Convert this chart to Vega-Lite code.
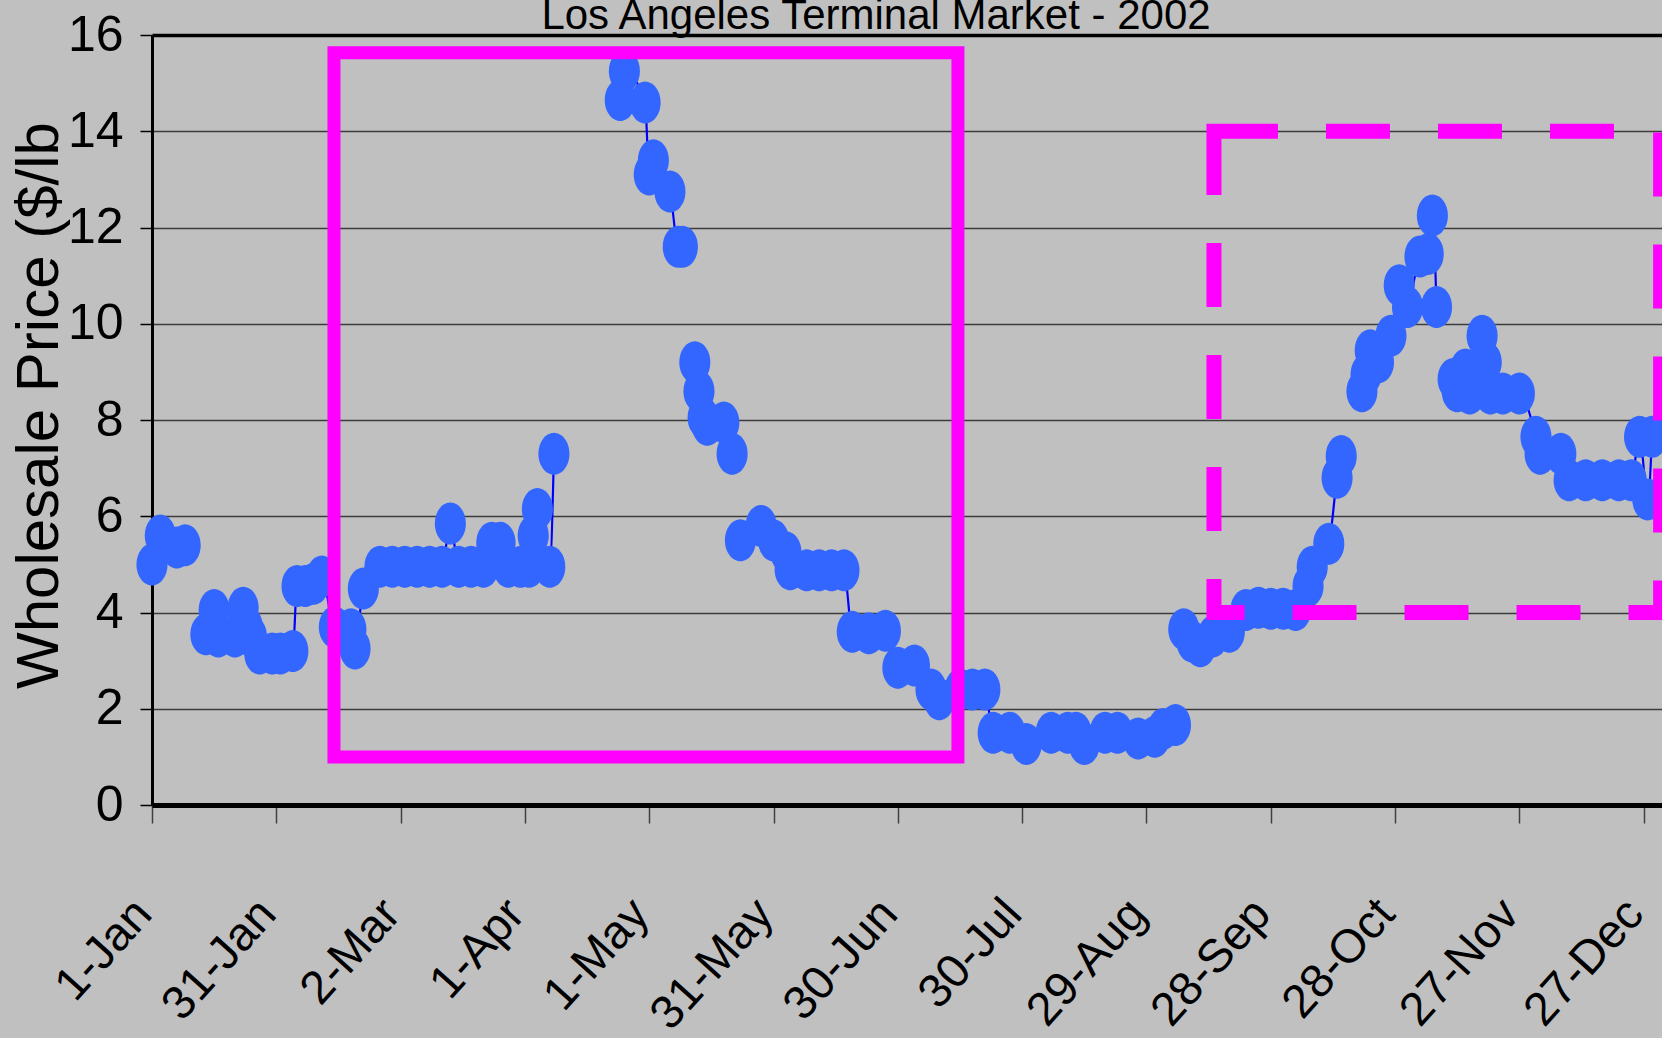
{
  "$schema": "https://vega.github.io/schema/vega-lite/v6.json",
  "width": 1510,
  "height": 770,
  "autosize": {"type": "none"},
  "padding": {"left": 152, "top": 35, "right": 0, "bottom": 233},
  "background": "#C0C0C0",
  "config": {"view": {"stroke": null}},
  "title": {
    "text": "Los Angeles Terminal Market  - 2002",
    "font": "Liberation Sans, Arial, sans-serif",
    "fontSize": 42,
    "fontWeight": "normal",
    "color": "black",
    "anchor": "middle",
    "frame": "group",
    "baseline": "alphabetic",
    "offset": -61,
    "dx": -31
  },
  "datasets": {
    "prices": [
      {"date": "2002-01-01T00:00", "price": 5.0, "seg": 1},
      {"date": "2002-01-03T00:00", "price": 5.6, "seg": 1},
      {"date": "2002-01-07T00:00", "price": 5.35, "seg": 1},
      {"date": "2002-01-09T00:00", "price": 5.4, "seg": 1},
      {"date": "2002-01-14T00:00", "price": 3.55, "seg": 2},
      {"date": "2002-01-16T00:00", "price": 4.05, "seg": 2},
      {"date": "2002-01-17T00:00", "price": 3.5, "seg": 2},
      {"date": "2002-01-21T00:00", "price": 3.5, "seg": 2},
      {"date": "2002-01-23T00:00", "price": 4.1, "seg": 2},
      {"date": "2002-01-24T00:00", "price": 3.7, "seg": 2},
      {"date": "2002-01-25T00:00", "price": 3.5, "seg": 2},
      {"date": "2002-01-27T00:00", "price": 3.15, "seg": 2},
      {"date": "2002-01-30T00:00", "price": 3.15, "seg": 2},
      {"date": "2002-02-01T00:00", "price": 3.15, "seg": 2},
      {"date": "2002-02-04T00:00", "price": 3.2, "seg": 2},
      {"date": "2002-02-05T00:00", "price": 4.55, "seg": 2},
      {"date": "2002-02-07T00:00", "price": 4.55, "seg": 2},
      {"date": "2002-02-09T00:00", "price": 4.6, "seg": 2},
      {"date": "2002-02-11T00:00", "price": 4.75, "seg": 2},
      {"date": "2002-02-14T00:00", "price": 3.7, "seg": 2},
      {"date": "2002-02-18T00:00", "price": 3.65, "seg": 2},
      {"date": "2002-02-19T00:00", "price": 3.25, "seg": 2},
      {"date": "2002-02-21T00:00", "price": 4.5, "seg": 2},
      {"date": "2002-02-25T00:00", "price": 4.95, "seg": 2},
      {"date": "2002-02-28T00:00", "price": 4.95, "seg": 2},
      {"date": "2002-03-03T00:00", "price": 4.95, "seg": 2},
      {"date": "2002-03-06T00:00", "price": 4.95, "seg": 2},
      {"date": "2002-03-09T00:00", "price": 4.95, "seg": 2},
      {"date": "2002-03-12T00:00", "price": 4.95, "seg": 2},
      {"date": "2002-03-14T00:00", "price": 5.85, "seg": 2},
      {"date": "2002-03-16T00:00", "price": 4.95, "seg": 2},
      {"date": "2002-03-19T00:00", "price": 4.95, "seg": 2},
      {"date": "2002-03-22T00:00", "price": 4.95, "seg": 2},
      {"date": "2002-03-24T00:00", "price": 5.45, "seg": 2},
      {"date": "2002-03-26T00:00", "price": 5.45, "seg": 2},
      {"date": "2002-03-28T00:00", "price": 4.95, "seg": 2},
      {"date": "2002-03-31T00:00", "price": 4.95, "seg": 2},
      {"date": "2002-04-02T00:00", "price": 4.95, "seg": 2},
      {"date": "2002-04-03T00:00", "price": 5.6, "seg": 2},
      {"date": "2002-04-04T00:00", "price": 6.15, "seg": 2},
      {"date": "2002-04-07T00:00", "price": 4.95, "seg": 2},
      {"date": "2002-04-08T00:00", "price": 7.3, "seg": 2},
      {"date": "2002-04-24T00:00", "price": 14.65, "seg": 3},
      {"date": "2002-04-25T00:00", "price": 15.25, "seg": 3},
      {"date": "2002-04-30T00:00", "price": 14.6, "seg": 3},
      {"date": "2002-05-01T00:00", "price": 13.1, "seg": 3},
      {"date": "2002-05-02T00:00", "price": 13.4, "seg": 3},
      {"date": "2002-05-06T00:00", "price": 12.75, "seg": 3},
      {"date": "2002-05-08T00:00", "price": 11.6, "seg": 3},
      {"date": "2002-05-09T00:00", "price": 11.6, "seg": 3},
      {"date": "2002-05-12T00:00", "price": 9.2, "seg": 4},
      {"date": "2002-05-13T00:00", "price": 8.6, "seg": 4},
      {"date": "2002-05-14T00:00", "price": 8.05, "seg": 4},
      {"date": "2002-05-15T00:00", "price": 7.9, "seg": 4},
      {"date": "2002-05-19T00:00", "price": 7.95, "seg": 4},
      {"date": "2002-05-21T00:00", "price": 7.3, "seg": 4},
      {"date": "2002-05-23T00:00", "price": 5.5, "seg": 5},
      {"date": "2002-05-28T00:00", "price": 5.8, "seg": 5},
      {"date": "2002-05-31T00:00", "price": 5.5, "seg": 5},
      {"date": "2002-06-03T00:00", "price": 5.25, "seg": 5},
      {"date": "2002-06-04T00:00", "price": 4.9, "seg": 5},
      {"date": "2002-06-08T00:00", "price": 4.88, "seg": 5},
      {"date": "2002-06-11T00:00", "price": 4.88, "seg": 5},
      {"date": "2002-06-14T00:00", "price": 4.88, "seg": 5},
      {"date": "2002-06-17T00:00", "price": 4.88, "seg": 5},
      {"date": "2002-06-19T00:00", "price": 3.6, "seg": 5},
      {"date": "2002-06-23T00:00", "price": 3.57, "seg": 5},
      {"date": "2002-06-27T00:00", "price": 3.62, "seg": 5},
      {"date": "2002-06-30T00:00", "price": 2.85, "seg": 5},
      {"date": "2002-07-04T00:00", "price": 2.9, "seg": 5},
      {"date": "2002-07-08T00:00", "price": 2.4, "seg": 5},
      {"date": "2002-07-10T00:00", "price": 2.2, "seg": 5},
      {"date": "2002-07-15T00:00", "price": 2.4, "seg": 5},
      {"date": "2002-07-18T00:00", "price": 2.4, "seg": 5},
      {"date": "2002-07-21T00:00", "price": 2.4, "seg": 5},
      {"date": "2002-07-23T00:00", "price": 1.5, "seg": 5},
      {"date": "2002-07-27T00:00", "price": 1.5, "seg": 5},
      {"date": "2002-07-31T00:00", "price": 1.27, "seg": 5},
      {"date": "2002-08-06T00:00", "price": 1.5, "seg": 5},
      {"date": "2002-08-10T00:00", "price": 1.5, "seg": 5},
      {"date": "2002-08-12T00:00", "price": 1.5, "seg": 5},
      {"date": "2002-08-14T00:00", "price": 1.27, "seg": 5},
      {"date": "2002-08-19T00:00", "price": 1.5, "seg": 5},
      {"date": "2002-08-22T00:00", "price": 1.5, "seg": 5},
      {"date": "2002-08-27T00:00", "price": 1.38, "seg": 5},
      {"date": "2002-08-31T00:00", "price": 1.42, "seg": 5},
      {"date": "2002-09-02T00:00", "price": 1.58, "seg": 5},
      {"date": "2002-09-05T00:00", "price": 1.66, "seg": 5},
      {"date": "2002-09-07T00:00", "price": 3.65, "seg": 6},
      {"date": "2002-09-09T00:00", "price": 3.4, "seg": 6},
      {"date": "2002-09-11T00:00", "price": 3.3, "seg": 6},
      {"date": "2002-09-14T00:00", "price": 3.5, "seg": 6},
      {"date": "2002-09-18T00:00", "price": 3.6, "seg": 6},
      {"date": "2002-09-22T00:00", "price": 4.05, "seg": 6},
      {"date": "2002-09-25T00:00", "price": 4.1, "seg": 6},
      {"date": "2002-09-28T00:00", "price": 4.08, "seg": 6},
      {"date": "2002-10-01T00:00", "price": 4.08, "seg": 6},
      {"date": "2002-10-04T00:00", "price": 4.05, "seg": 6},
      {"date": "2002-10-07T00:00", "price": 4.55, "seg": 6},
      {"date": "2002-10-08T00:00", "price": 4.95, "seg": 6},
      {"date": "2002-10-12T00:00", "price": 5.43, "seg": 6},
      {"date": "2002-10-14T00:00", "price": 6.8, "seg": 6},
      {"date": "2002-10-15T00:00", "price": 7.25, "seg": 6},
      {"date": "2002-10-20T00:00", "price": 8.6, "seg": 7},
      {"date": "2002-10-21T00:00", "price": 8.95, "seg": 7},
      {"date": "2002-10-22T00:00", "price": 9.45, "seg": 7},
      {"date": "2002-10-24T00:00", "price": 9.2, "seg": 7},
      {"date": "2002-10-27T00:00", "price": 9.75, "seg": 7},
      {"date": "2002-10-29T00:00", "price": 10.8, "seg": 7},
      {"date": "2002-10-31T00:00", "price": 10.35, "seg": 7},
      {"date": "2002-11-03T00:00", "price": 11.4, "seg": 7},
      {"date": "2002-11-05T00:00", "price": 11.45, "seg": 7},
      {"date": "2002-11-06T00:00", "price": 12.25, "seg": 7},
      {"date": "2002-11-07T00:00", "price": 10.35, "seg": 7},
      {"date": "2002-11-11T00:00", "price": 8.85, "seg": 8},
      {"date": "2002-11-12T00:00", "price": 8.6, "seg": 8},
      {"date": "2002-11-14T00:00", "price": 9.05, "seg": 8},
      {"date": "2002-11-15T00:00", "price": 8.55, "seg": 8},
      {"date": "2002-11-18T00:00", "price": 9.75, "seg": 8},
      {"date": "2002-11-19T00:00", "price": 9.2, "seg": 8},
      {"date": "2002-11-20T00:00", "price": 8.55, "seg": 8},
      {"date": "2002-11-23T00:00", "price": 8.55, "seg": 8},
      {"date": "2002-11-27T00:00", "price": 8.55, "seg": 8},
      {"date": "2002-12-01T00:00", "price": 7.65, "seg": 8},
      {"date": "2002-12-02T00:00", "price": 7.3, "seg": 8},
      {"date": "2002-12-07T00:00", "price": 7.3, "seg": 8},
      {"date": "2002-12-09T00:00", "price": 6.75, "seg": 8},
      {"date": "2002-12-13T00:00", "price": 6.75, "seg": 8},
      {"date": "2002-12-17T00:00", "price": 6.75, "seg": 8},
      {"date": "2002-12-21T00:00", "price": 6.75, "seg": 8},
      {"date": "2002-12-24T00:00", "price": 6.75, "seg": 8},
      {"date": "2002-12-26T00:00", "price": 7.65, "seg": 8},
      {"date": "2002-12-28T00:00", "price": 6.35, "seg": 8},
      {"date": "2002-12-29T00:00", "price": 7.65, "seg": 8}
    ],
    "solidBox": [
      {"date": "2002-02-13T22:00", "date2": "2002-07-14T12:00", "price": 1.0, "price2": 15.63}
    ],
    "dashedBox": [
      {"date": "2002-09-14T07:00", "date2": "2002-12-31T02:00", "price": 4.0, "price2": 14.0}
    ]
  },
  "encoding": {
    "x": {
      "field": "date",
      "type": "temporal",
      "scale": {
        "domain": [
          {"year": 2002, "month": 1, "date": 1},
          {"year": 2002, "month": 12, "date": 31, "hours": 10}
        ],
        "nice": false
      },
      "axis": {
        "values": [
          {"year": 2002, "month": 1, "date": 1},
          {"year": 2002, "month": 1, "date": 31},
          {"year": 2002, "month": 3, "date": 2},
          {"year": 2002, "month": 4, "date": 1},
          {"year": 2002, "month": 5, "date": 1},
          {"year": 2002, "month": 5, "date": 31},
          {"year": 2002, "month": 6, "date": 30},
          {"year": 2002, "month": 7, "date": 30},
          {"year": 2002, "month": 8, "date": 29},
          {"year": 2002, "month": 9, "date": 28},
          {"year": 2002, "month": 10, "date": 28},
          {"year": 2002, "month": 11, "date": 27},
          {"year": 2002, "month": 12, "date": 27}
        ],
        "format": "%-d-%b",
        "title": null,
        "grid": false,
        "domainColor": "black",
        "domainWidth": 5,
        "tickColor": "#404040",
        "tickWidth": 1.5,
        "tickSize": 18,
        "labelAngle": -48,
        "labelAlign": "right",
        "labelBaseline": "middle",
        "labelFont": "Liberation Sans, Arial, sans-serif",
        "labelFontSize": 47,
        "labelColor": "black",
        "labelPadding": 83,
        "labelOffset": -9,
        "labelOverlap": false,
        "labelBound": false,
        "labelFlush": false
      }
    },
    "y": {
      "field": "price",
      "type": "quantitative",
      "scale": {"domain": [0, 16], "nice": false, "zero": false},
      "axis": {
        "values": [0, 2, 4, 6, 8, 10, 12, 14, 16],
        "title": "Wholesale Price ($/lb",
        "titleFont": "Liberation Sans, Arial, sans-serif",
        "titleFontSize": 60,
        "titleFontWeight": "normal",
        "titleColor": "black",
        "titleAngle": 270,
        "titleAlign": "center",
        "titleBaseline": "middle",
        "titleX": -113,
        "titleY": 370,
        "grid": true,
        "gridColor": {"condition": {"test": "datum.value === 16", "value": "black"}, "value": "#3c3c3c"},
        "gridWidth": {"condition": {"test": "datum.value === 16", "value": 3.5}, "value": 1.5},
        "domainColor": "black",
        "domainWidth": 3,
        "tickColor": "black",
        "tickWidth": 1.5,
        "tickSize": 12,
        "labelFont": "Liberation Sans, Arial, sans-serif",
        "labelFontSize": 50,
        "labelColor": "black",
        "labelPadding": 17,
        "labelOverlap": false,
        "labelBound": false,
        "labelFlush": false
      }
    }
  },
  "layer": [
    {
      "data": {"name": "prices"},
      "mark": {"type": "line", "color": "#0000FF", "strokeWidth": 2.2, "interpolate": "monotone"},
      "encoding": {"detail": {"field": "seg", "type": "nominal"}}
    },
    {
      "data": {"name": "prices"},
      "mark": {
        "type": "point",
        "shape": "M-0.74,0A0.74,1 0 1,1 0.74,0A0.74,1 0 1,1 -0.74,0Z",
        "size": 1764,
        "filled": true,
        "fill": "#3366FF",
        "opacity": 1,
        "strokeWidth": 0
      }
    },
    {
      "data": {"name": "solidBox"},
      "mark": {"type": "rect", "filled": false, "stroke": "#FF00FF", "strokeWidth": 13},
      "encoding": {
        "x2": {"field": "date2"},
        "y2": {"field": "price2"}
      }
    },
    {
      "data": {"name": "dashedBox"},
      "mark": {"type": "rect", "filled": false, "stroke": "#FF00FF", "strokeWidth": 15, "strokeDash": [64, 48]},
      "encoding": {
        "x2": {"field": "date2"},
        "y2": {"field": "price2"}
      }
    }
  ]
}
